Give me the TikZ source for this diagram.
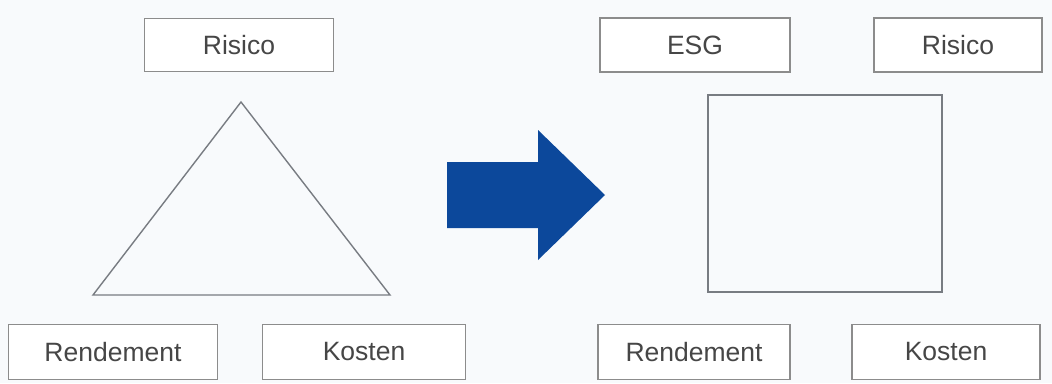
\documentclass[tikz,border=0pt]{standalone}
\usepackage{fontspec}
\setmainfont{Liberation Sans}
\definecolor{bg}{RGB}{248,250,252}
\definecolor{boxline}{RGB}{140,140,140}
\definecolor{shapeline}{RGB}{120,124,130}
\definecolor{txt}{RGB}{70,70,70}
\definecolor{arrowblue}{RGB}{12,72,155}
\begin{document}
\begin{tikzpicture}[x=1pt,y=-1pt,
  labelbox/.style={draw=boxline,line width=1.6pt,fill=white,rectangle,inner sep=0pt,
    text=txt,font=\fontsize{26.5}{29}\selectfont},
  outline/.style={draw=shapeline,line width=1.4pt}]
\fill[bg] (0,0) rectangle (1052,383);
\useasboundingbox (0,0) rectangle (1052,383);
% left side
\node[labelbox,minimum width=189pt,minimum height=53pt] (risL) at (239,45) {Risico};
\node[labelbox,minimum width=209pt,minimum height=55pt] (rendL) at (113,352) {Rendement};
\node[labelbox,minimum width=203pt,minimum height=55pt] (kosL) at (364,352) {Kosten};
\draw[outline] (241,102) -- (93,295) -- (390,295) -- cycle;
% arrow
\fill[arrowblue] (447,162) -- (538,162) -- (538,130) -- (605,195) -- (538,260) -- (538,228) -- (447,228) -- cycle;
% right side
\node[labelbox,minimum width=190pt,minimum height=54pt] (esg) at (695,45) {ESG};
\node[labelbox,minimum width=168pt,minimum height=54pt] (risR) at (958,45) {Risico};
\node[labelbox,minimum width=192pt,minimum height=55pt] (rendR) at (694,352) {Rendement};
\node[labelbox,minimum width=188pt,minimum height=55pt] (kosR) at (946,352) {Kosten};
\draw[outline] (708,95) rectangle (942,292);
\end{tikzpicture}
\end{document}
